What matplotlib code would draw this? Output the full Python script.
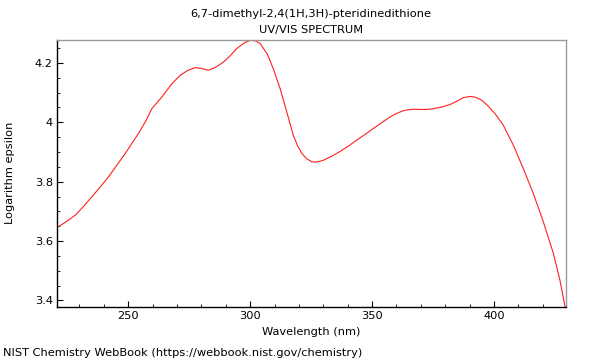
import matplotlib
matplotlib.use("Agg")
import matplotlib.pyplot as plt
from matplotlib.ticker import MultipleLocator, FuncFormatter

wavelength = [220.8, 224.5, 228.3, 231.7, 235.1, 238.5, 241.9, 245.3, 248.8, 251.5,
              254.2, 257.0, 259.7, 263.8, 267.9, 271.3, 274.5, 277.5, 280.2, 282.9,
              286.0, 289.1, 291.8, 294.5, 297.5, 300.0, 302.2, 304.1, 307.0, 309.5,
              312.3, 315.0, 317.7, 319.5, 321.2, 323.2, 325.3, 327.0, 328.7, 330.0,
              333.5, 336.9, 340.3, 343.7, 347.1, 350.5, 354.0, 357.4, 359.8, 362.2,
              364.5, 366.9, 370.3, 373.8, 378.0, 382.0, 385.0, 387.4, 390.2, 392.5,
              395.0, 397.5, 400.4, 403.8, 407.9, 412.0, 416.1, 420.2, 424.3, 427.0,
              429.1]
log_eps = [3.645, 3.665, 3.687, 3.717, 3.749, 3.782, 3.816, 3.855, 3.895, 3.929,
           3.962, 4.001, 4.046, 4.085, 4.130, 4.158, 4.175, 4.184, 4.181, 4.175,
           4.186, 4.203, 4.224, 4.248, 4.267, 4.276, 4.274, 4.265, 4.230, 4.180,
           4.113, 4.035, 3.956, 3.920, 3.895, 3.877, 3.867, 3.866, 3.869, 3.872,
           3.886, 3.902, 3.920, 3.940, 3.959, 3.979, 3.999, 4.018, 4.029, 4.037,
           4.042, 4.044, 4.043, 4.044, 4.050, 4.060, 4.072, 4.083, 4.087, 4.084,
           4.074, 4.055, 4.029, 3.990, 3.923, 3.844, 3.760, 3.665, 3.559, 3.469,
           3.379]

title1 = "6,7-dimethyl-2,4(1H,3H)-pteridinedithione"
title2 = "UV/VIS SPECTRUM"
xlabel = "Wavelength (nm)"
ylabel = "Logarithm epsilon"
footer = "NIST Chemistry WebBook (https://webbook.nist.gov/chemistry)"

plt.rcParams['font.family'] = ['DejaVu Sans']
fs = 8.2

fig = plt.figure(figsize=(6, 3.6), dpi=100)
ax = fig.add_axes([57/600, 1-307/360, (566-57)/600, (307-40)/360])
ax.plot(wavelength, log_eps, color='#ff2020', lw=0.8)
ax.set_xlim(220.8, 429.5)
ax.set_ylim(3.378, 4.277)

ax.xaxis.set_major_locator(MultipleLocator(50))
ax.xaxis.set_minor_locator(MultipleLocator(10))
ax.yaxis.set_major_locator(MultipleLocator(0.2))
ax.yaxis.set_minor_locator(MultipleLocator(0.05))
ax.yaxis.set_major_formatter(FuncFormatter(lambda v, p: f"{v:g}" if abs(v-round(v)) > 1e-6 else f"{round(v)}"))
ax.tick_params(which='both', direction='in', top=False, right=False, labelsize=fs, pad=3)
ax.tick_params(which='major', length=4, width=0.8)
ax.tick_params(which='minor', length=2.5, width=0.6)

for s in ['top', 'right']:
    ax.spines[s].set_color('#999999')
for s in ['left', 'bottom']:
    ax.spines[s].set_color('black')
for s in ax.spines.values():
    s.set_linewidth(1.0)

fig.text(311/600, 1-14/360, title1, ha='center', va='center', fontsize=fs)
fig.text(311/600, 1-30/360, title2, ha='center', va='center', fontsize=fs)
fig.text(311/600, 1-332/360, xlabel, ha='center', va='center', fontsize=fs)
fig.text(10/600, 1-173/360, ylabel, ha='center', va='center', rotation=90, fontsize=fs)
fig.text(3/600, 1-353/360, footer, ha='left', va='center', fontsize=fs)

fig.savefig("out.png", dpi=100)
